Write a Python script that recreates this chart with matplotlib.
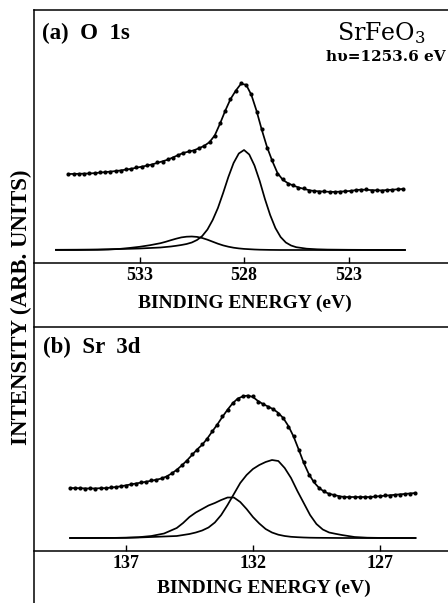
import matplotlib
matplotlib.use("Agg")
import matplotlib.pyplot as plt
from matplotlib.lines import Line2D

# ---------------- data (arbitrary intensity units) ----
o1s_be = [536.40, 536.15, 535.90, 535.65, 535.40, 535.15, 534.90, 534.65, 534.40, 534.15,
          533.90, 533.65, 533.40, 533.15, 532.90, 532.65, 532.40, 532.15, 531.90, 531.65,
          531.40, 531.15, 530.90, 530.65, 530.40, 530.15, 529.90, 529.65, 529.40, 529.15,
          528.90, 528.65, 528.40, 528.15, 527.90, 527.65, 527.40, 527.15, 526.90, 526.65,
          526.40, 526.15, 525.90, 525.65, 525.40, 525.15, 524.90, 524.65, 524.40, 524.15,
          523.90, 523.65, 523.40, 523.15, 522.90, 522.65, 522.40, 522.15, 521.90, 521.65,
          521.40, 521.15, 520.90, 520.65, 520.40]
o1s_fit = [89.0, 89.1, 89.2, 89.4, 89.5, 89.9, 90.4, 90.9, 91.4, 91.9,
           92.6, 93.4, 94.2, 95.3, 96.3, 97.4, 98.6, 100.1, 101.7, 103.3,
           105.6, 107.9, 110.1, 111.4, 112.7, 114.8, 117.2, 120.9, 127.6, 139.3,
           152.2, 163.8, 172.2, 179.1, 178.3, 168.2, 152.1, 133.2, 116.0, 102.1,
           90.0, 83.3, 79.8, 77.5, 75.6, 74.2, 72.9, 72.0, 71.7, 71.4,
           71.2, 71.1, 71.4, 71.7, 72.1, 72.9, 73.4, 73.2, 72.9, 72.7,
           72.6, 73.0, 73.3, 73.7, 74.0]
o1s_data = [89.3, 88.8, 89.5, 89.1, 89.8, 89.6, 90.9, 90.6, 91.0, 92.3,
            92.2, 93.9, 94.0, 95.8, 96.0, 97.9, 98.3, 100.6, 101.3, 103.8,
            105.2, 108.4, 109.7, 111.9, 112.3, 115.3, 116.8, 121.5, 127.0, 140.0,
            151.6, 164.4, 171.7, 179.8, 177.6, 168.9, 151.4, 133.9, 115.3, 102.9,
            89.2, 84.1, 79.0, 78.2, 75.0, 74.8, 72.4, 72.5, 71.3, 71.9,
            70.8, 71.5, 71.0, 72.2, 71.7, 73.4, 73.0, 73.7, 72.5, 73.1,
            72.3, 73.5, 72.9, 74.1, 73.6]

o1s_comp_be = [537.0, 536.0, 535.0, 534.5, 534.0, 533.5, 533.0, 532.5, 532.0,
               531.75, 531.5, 531.25, 531.0, 530.75, 530.5, 530.25, 530.0,
               529.75, 529.5, 529.25, 529.0, 528.75, 528.5, 528.25, 528.0,
               527.75, 527.5, 527.25, 527.0, 526.75, 526.5, 526.25, 526.0,
               525.75, 525.5, 525.0, 524.5, 524.0, 523.0, 522.0, 521.0, 520.3]
o1s_main = [13.2, 13.3, 13.5, 13.7, 14.0, 14.2, 14.5, 15.0, 15.5,
            16.0, 16.5, 17.2, 18.0, 19.0, 20.5, 23.0, 27.0,
            33.5, 43.0, 55.0, 70.0, 86.0, 100.0, 109.5, 113.0,
            108.5, 97.5, 82.0, 64.0, 48.0, 35.0, 26.0, 20.5,
            17.5, 15.8, 14.3, 13.7, 13.4, 13.2, 13.1, 13.05, 13.0]
o1s_minor = [13.0, 13.0, 13.2, 13.5, 14.0, 15.0, 16.2, 17.8, 19.8,
             21.2, 22.8, 24.3, 25.6, 26.3, 26.5, 26.1, 25.0,
             23.3, 21.3, 19.3, 17.6, 16.3, 15.3, 14.6, 14.1,
             13.8, 13.5, 13.3, 13.2, 13.1, 13.05, 13.0, 13.0,
             13.0, 13.0, 13.0, 13.0, 13.0, 13.0, 13.0, 13.0, 13.0]

sr3d_be = [139.2, 139.0, 138.8, 138.6, 138.4, 138.2, 138.0, 137.8, 137.6, 137.4,
           137.2, 137.0, 136.8, 136.6, 136.4, 136.2, 136.0, 135.8, 135.6, 135.4,
           135.2, 135.0, 134.8, 134.6, 134.4, 134.2, 134.0, 133.8, 133.6, 133.4,
           133.2, 133.0, 132.8, 132.6, 132.4, 132.2, 132.0, 131.8, 131.6, 131.4,
           131.2, 131.0, 130.8, 130.6, 130.4, 130.2, 130.0, 129.8, 129.6, 129.4,
           129.2, 129.0, 128.8, 128.6, 128.4, 128.2, 128.0, 127.8, 127.6, 127.4,
           127.2, 127.0, 126.8, 126.6, 126.4, 126.2, 126.0, 125.8, 125.6]
sr3d_fit = [63.0, 62.9, 62.8, 62.6, 62.5, 62.6, 62.8, 62.9, 63.4, 64.0,
            64.7, 65.7, 66.6, 67.6, 68.4, 69.3, 70.3, 71.3, 72.5, 74.6,
            77.5, 81.2, 85.6, 90.5, 96.0, 101.5, 106.2, 112.4, 119.6, 126.6,
            134.2, 141.3, 147.7, 152.4, 154.6, 155.5, 154.0, 150.0, 146.9, 144.4,
            141.8, 138.1, 132.7, 124.8, 114.5, 101.6, 88.2, 77.0, 68.8, 63.2,
            59.4, 57.2, 56.0, 54.8, 54.0, 54.0, 54.0, 54.0, 54.0, 54.0,
            54.4, 54.9, 55.3, 55.8, 56.2, 56.7, 57.1, 57.6, 58.0]
sr3d_data = [63.2, 62.7, 63.0, 62.4, 62.8, 62.3, 63.1, 62.6, 63.8, 63.7,
             65.1, 65.4, 67.0, 67.3, 68.9, 69.0, 70.8, 71.0, 73.1, 74.2,
             78.3, 80.9, 86.4, 90.1, 96.8, 100.9, 107.0, 111.8, 120.5, 126.0,
             135.0, 140.8, 148.5, 152.0, 155.3, 155.1, 154.6, 149.4, 147.5, 143.9,
             142.4, 137.5, 133.5, 124.0, 115.4, 100.8, 89.0, 76.3, 69.6, 62.6,
             59.9, 56.7, 56.4, 54.3, 54.5, 53.6, 54.3, 53.7, 54.4, 53.8,
             54.7, 54.6, 55.6, 55.5, 56.5, 56.4, 57.4, 57.3, 58.3]

sr3d_comp_be = [139.2, 138.5, 138.0, 137.5, 137.0, 136.5, 136.0, 135.5, 135.0,
                134.75, 134.5, 134.25, 134.0, 133.75, 133.5, 133.25, 133.0,
                132.75, 132.5, 132.25, 132.0, 131.75, 131.5, 131.25, 131.0,
                130.75, 130.5, 130.25, 130.0, 129.75, 129.5, 129.25, 129.0,
                128.75, 128.5, 128.0, 127.5, 127.0, 126.5, 126.0, 125.6]
sr3d_high = [13.0, 13.0, 13.05, 13.1, 13.3, 13.8, 15.0, 17.5, 23.0,
             28.0, 34.0, 38.5, 42.0, 45.5, 48.0, 51.0, 53.5,
             53.5, 49.0, 42.0, 34.0, 27.5, 22.0, 18.5, 16.3,
             15.0, 14.2, 13.8, 13.5, 13.3, 13.2, 13.15, 13.1,
             13.05, 13.0, 13.0, 13.0, 13.0, 13.0, 13.0, 13.0]
sr3d_low = [13.0, 13.0, 13.05, 13.1, 13.2, 13.5, 14.0, 14.5, 15.0,
            16.0, 17.0, 18.5, 20.5, 23.5, 28.5, 36.0, 46.0,
            57.0, 68.0, 76.0, 82.0, 86.0, 89.0, 91.0, 90.0,
            83.0, 73.0, 60.0, 48.0, 36.0, 27.0, 21.5, 18.5,
            17.2, 16.0, 14.0, 13.3, 13.1, 13.05, 13.0, 13.0]

o1s_ticks = [533, 528, 523]
sr3d_ticks = [137, 132, 127]

# ---------------- figure ----------------------------------------------------
W, H = 448, 603
fig = plt.figure(figsize=(W / 100, H / 100), dpi=100)
fig.patch.set_facecolor("white")

def fx(px):
    return px / W

def fy(py):
    return 1 - py / H

SERIF = "Liberation Serif"
tick_font = dict(family=SERIF, weight="bold", size=13)

ax_a = fig.add_axes([fx(34), fy(263), (W - 34) / W, (263 - 10) / H])
ax_b = fig.add_axes([fx(34), fy(551), (W - 34) / W, (551 - 327) / H])

for ax in (ax_a, ax_b):
    ax.spines["left"].set_visible(False)
    ax.spines["right"].set_visible(False)
    ax.spines["top"].set_linewidth(1.1)
    ax.spines["bottom"].set_linewidth(1.1)
    ax.set_yticks([])
    ax.tick_params(axis="x", direction="in", length=4, width=1.0, pad=3)

lw_curve = 1.25
ms = 3.0

ax_a.plot(o1s_comp_be, o1s_minor, color="black", lw=lw_curve)
ax_a.plot(o1s_comp_be, o1s_main, color="black", lw=lw_curve)
ax_a.plot(o1s_be, o1s_fit, color="black", lw=lw_curve)
ax_a.plot(o1s_be, o1s_data, "o", color="black", ms=ms, mew=0)
ax_a.set_xlim(538.05, 518.24)
ax_a.set_ylim(0, 253)
ax_a.set_xticks(o1s_ticks)
ax_a.set_xticklabels([str(t) for t in o1s_ticks], fontdict=tick_font)

ax_b.plot(sr3d_comp_be, sr3d_high, color="black", lw=lw_curve)
ax_b.plot(sr3d_comp_be, sr3d_low, color="black", lw=lw_curve)
ax_b.plot(sr3d_be, sr3d_fit, color="black", lw=lw_curve)
ax_b.plot(sr3d_be, sr3d_data, "o", color="black", ms=ms, mew=0)
ax_b.set_xlim(140.62, 124.32)
ax_b.set_ylim(0, 224)
ax_b.set_xticks(sr3d_ticks)
ax_b.set_xticklabels([str(t) for t in sr3d_ticks], fontdict=tick_font)

# continuous left frame line
fig.add_artist(Line2D([fx(34), fx(34)], [fy(10), fy(603)], color="black", lw=1.1,
                      transform=fig.transFigure))

# texts
lab = dict(family=SERIF, weight="bold")
fig.text(fx(245), fy(303), "BINDING ENERGY (eV)", ha="center", va="center", size=14, **lab)
fig.text(fx(264), fy(588), "BINDING ENERGY (eV)", ha="center", va="center", size=14, **lab)
fig.text(fx(21), fy(307), "INTENSITY (ARB. UNITS)", ha="center", va="center",
         rotation=90, size=16.5, **lab)
fig.text(fx(42), fy(33), "(a)  O  1s", ha="left", va="center", size=16.5, **lab)
fig.text(fx(43), fy(347), "(b)  Sr  3d", ha="left", va="center", size=16.5, **lab)

plt.rcParams["mathtext.fontset"] = "custom"
plt.rcParams["mathtext.rm"] = "DejaVu Serif"
plt.rcParams["mathtext.it"] = "DejaVu Serif:italic"
plt.rcParams["mathtext.bf"] = "DejaVu Serif:bold"
fig.text(fx(337), fy(33), r"SrFeO$_3$", ha="left", va="center", size=17, family="DejaVu Serif")
fig.text(fx(446), fy(57), "hυ=1253.6 eV", ha="right", va="center", size=11,
         family="DejaVu Serif", weight="bold")

fig.savefig("out.png", dpi=100, facecolor="white")
